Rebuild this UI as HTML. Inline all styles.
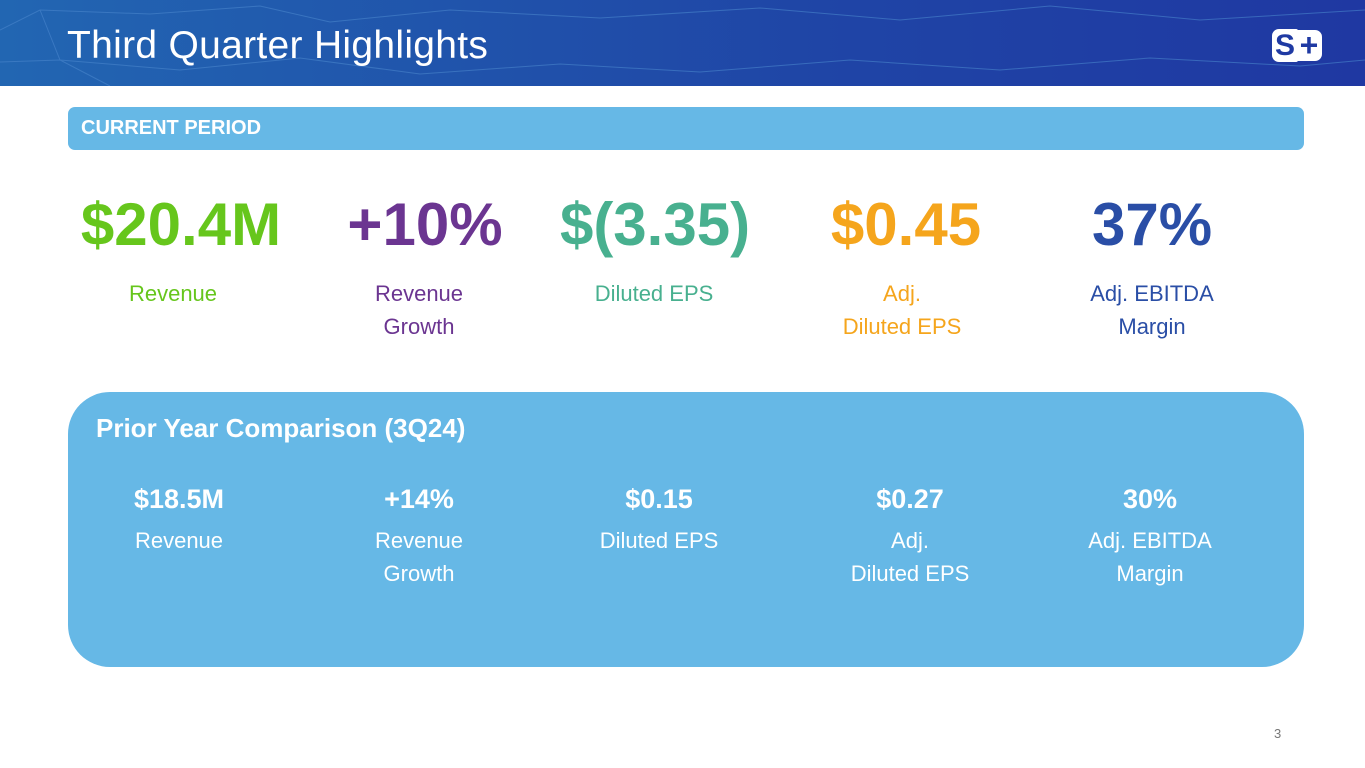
<!DOCTYPE html>
<html><head><meta charset="utf-8"><style>
*{margin:0;padding:0;box-sizing:border-box}
body{width:1365px;height:768px;position:relative;overflow:hidden;background:#fff;font-family:"Liberation Sans",sans-serif}
.abs{position:absolute}
.c{position:absolute;text-align:center;transform:translateX(-50%);white-space:nowrap}
.big{font-size:60px;font-weight:bold;top:190px;line-height:70px}
.lbl{font-size:22px;top:277px;line-height:33px}
.pv{font-size:27px;font-weight:bold;top:483px;line-height:32px;color:#fff}
.pl{font-size:22px;top:524px;line-height:33px;color:#fff}
</style></head><body>
<div class="abs" style="left:0;top:0;width:1365px;height:86px;background:linear-gradient(90deg,#2266b2,#1f45a6 60%,#1f38a2)">
<svg width="1365" height="86" style="position:absolute;left:0;top:0">
<g stroke="#4a86cc" stroke-width="1" fill="none" opacity="0.6">
<polyline points="0,30 40,10 150,14 260,6 330,22 450,10 600,18 760,8 900,20 1050,6 1200,20 1365,10"/>
<polyline points="0,62 60,60 180,70 300,58 420,74 560,64 700,72 850,60 1000,70 1150,58 1300,66 1365,60"/>
<polyline points="40,10 60,60 110,86 M150,14 180,70 M330,22 300,58 M450,10 420,74 M600,18 560,64 M760,8 700,72 M900,20 850,60 M1050,6 1000,70 M1200,20 1150,58"/>
</g></svg>
<div class="abs" style="left:67px;top:22px;font-size:39px;color:#fff;line-height:48px;letter-spacing:0.3px">Third Quarter Highlights</div>
<div class="abs" style="left:1272px;top:29px;width:50px;height:33px">
<div class="abs" style="left:0;top:0;width:26px;height:33px;background:#fff;border-radius:7px 2px 2px 7px;color:#1f3aa3;font-weight:bold;font-size:30px;line-height:33px;text-align:center">S</div>
<div class="abs" style="left:24px;top:1px;width:26px;height:31px;background:#fff;border-radius:2px 7px 7px 2px;color:#1f3aa3;font-weight:bold;font-size:32px;line-height:31px;text-align:center">+</div>
</div>
</div>
<div class="abs" style="left:68px;top:107px;width:1236px;height:43px;background:#66b8e6;border-radius:7px">
<div class="abs" style="left:13px;top:10px;font-size:20px;font-weight:bold;color:#fff">CURRENT PERIOD</div></div>

<div class="c big" style="left:181px;color:#66c61c">$20.4M</div>
<div class="c big" style="left:425px;color:#6b3591">+10%</div>
<div class="c big" style="left:655px;color:#48b08f">$(3.35)</div>
<div class="c big" style="left:906px;color:#f5a51c">$0.45</div>
<div class="c big" style="left:1152px;color:#2a4ea6">37%</div>
<div class="c lbl" style="left:173px;color:#66c61c">Revenue</div>
<div class="c lbl" style="left:419px;color:#6b3591">Revenue<br>Growth</div>
<div class="c lbl" style="left:654px;color:#48b08f">Diluted EPS</div>
<div class="c lbl" style="left:902px;color:#f5a51c">Adj.<br>Diluted EPS</div>
<div class="c lbl" style="left:1152px;color:#2a4ea6">Adj. EBITDA<br>Margin</div>

<div class="abs" style="left:68px;top:392px;width:1236px;height:275px;background:#66b8e6;border-radius:42px"></div>
<div class="abs" style="left:96px;top:413px;font-size:26px;font-weight:bold;color:#fff">Prior Year Comparison (3Q24)</div>
<div class="c pv" style="left:179px">$18.5M</div>
<div class="c pv" style="left:419px">+14%</div>
<div class="c pv" style="left:659px">$0.15</div>
<div class="c pv" style="left:910px">$0.27</div>
<div class="c pv" style="left:1150px">30%</div>
<div class="c pl" style="left:179px">Revenue</div>
<div class="c pl" style="left:419px">Revenue<br>Growth</div>
<div class="c pl" style="left:659px">Diluted EPS</div>
<div class="c pl" style="left:910px">Adj.<br>Diluted EPS</div>
<div class="c pl" style="left:1150px">Adj. EBITDA<br>Margin</div>

<div class="abs" style="left:1274px;top:726px;font-size:13px;color:#777">3</div>
</body></html>
